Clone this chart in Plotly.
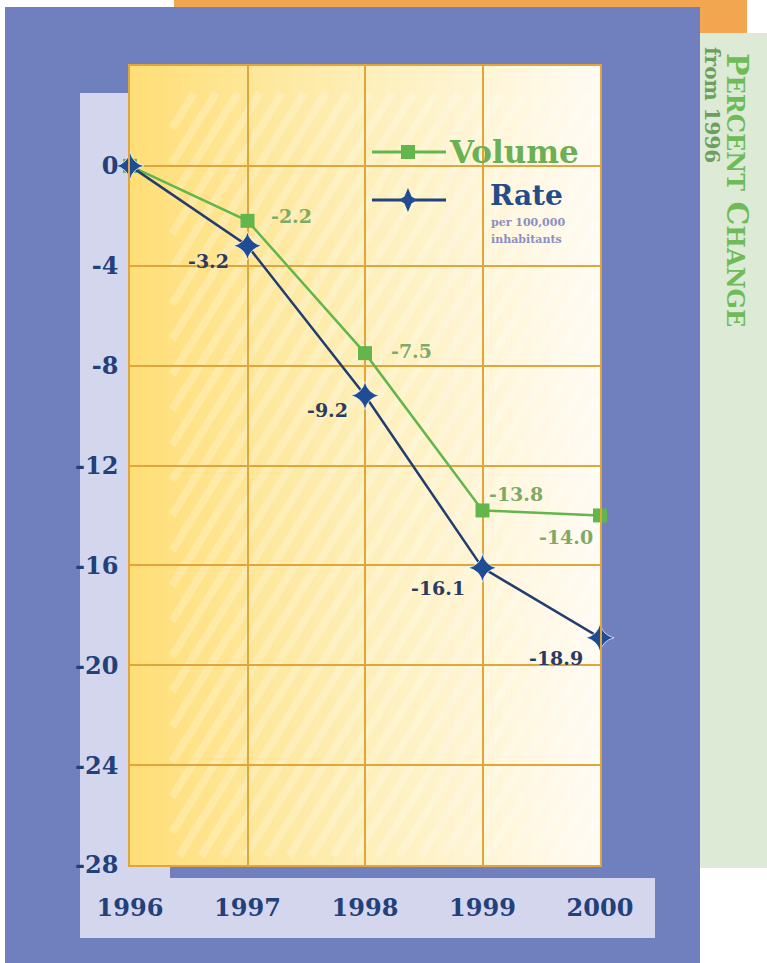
import plotly.graph_objects as go

# ---------------- data ----------------
years = [1996, 1997, 1998, 1999, 2000]
volume = [0, -2.2, -7.5, -13.8, -14.0]
rate = [0, -3.2, -9.2, -16.1, -18.9]
y_ticks = [0, -4, -8, -12, -16, -20, -24, -28]
y_ticktext = ["0", "-4", "-8", "-12", "-16", "-20", "-24", "-28"]
x_ticktext = ["1996", "1997", "1998", "1999", "2000"]

# label offsets (pixels) for the value labels, style only
vol_off = [None, (44, -5), (46, -2), (33, -16), (-34, 22)]
rate_off = [None, (-39, 15), (-38, 14), (-45, 20), (-44, 20)]

OFF = 0
W, H = 767, 963
FONT = "DejaVu Serif"

def px(x):
    return (x - OFF) / W

def py(y):
    return 1 - (y - OFF) / H

def rect(x0, y0, x1, y1, color, layer="below"):
    return dict(type="rect", xref="paper", yref="paper",
                x0=px(x0), x1=px(x1), y0=py(y1), y1=py(y0),
                fillcolor=color, line=dict(width=0), layer=layer)

# plot area in window pixels
PL, PR, PT, PB = 130, 600, 66, 865

shapes = []
shapes.append(rect(174, 0, 747, 33, "#F2A650"))        # orange bar
shapes.append(rect(700, 33, 767, 868, "#DDEBD6"))      # green panel
shapes.append(rect(5, 7, 700, 963, "#7080BE"))         # blue block
shapes.append(rect(80, 93, 170, 938, "#D4D6EE"))       # lavender column
shapes.append(rect(80, 878, 655, 938, "#D4D6EE"))      # lavender band

# gradient plot background
stops = [(130, (255, 222, 118)), (366, (254, 239, 185)), (600, (255, 251, 243))]
def col_at(x):
    for (xa, ca), (xb, cb) in zip(stops[:-1], stops[1:]):
        if xa <= x <= xb:
            t = (x - xa) / (xb - xa)
            return tuple(round(ca[i] + (cb[i] - ca[i]) * t) for i in range(3))
    return stops[-1][1]

step = 6
x = PL
while x < PR:
    x2 = min(x + step, PR)
    c = col_at((x + x2) / 2)
    shapes.append(rect(x, PT, x2 + 0.6, PB, "rgb(%d,%d,%d)" % c))
    x = x2

# hatch stripes within inset rectangle
HX0, HY0, HX1, HY1 = 172, 93, 598, 856
k = 1.6
def clip(xa, ya, xb, yb):
    dx, dy = xb - xa, yb - ya
    t0, t1 = 0.0, 1.0
    for p, q in ((-dx, xa - HX0), (dx, HX1 - xa), (-dy, ya - HY0), (dy, HY1 - ya)):
        if p == 0:
            if q < 0:
                return None
        else:
            r = q / p
            if p < 0:
                t0 = max(t0, r)
            else:
                t1 = min(t1, r)
    if t0 >= t1:
        return None
    return (xa + t0 * dx, ya + t0 * dy, xa + t1 * dx, ya + t1 * dy)

span = (HY1 - HY0) / k
xs = HX0 - span
while xs < HX1 + 10:
    seg = clip(xs, HY1, xs + span + 50, HY1 - k * (span + 50))
    if seg:
        shapes.append(dict(type="line", xref="paper", yref="paper",
                           x0=px(seg[0]), y0=py(seg[1]), x1=px(seg[2]), y1=py(seg[3]),
                           line=dict(color="rgba(255,255,255,0.22)", width=8), layer="below"))
    xs += 22

# legend keys
VOL_C = "#62B64C"
RATE_C = "#1F4C92"
shapes.append(dict(type="line", xref="paper", yref="paper", x0=px(372), x1=px(446),
                   y0=py(152), y1=py(152), line=dict(color=VOL_C, width=3), layer="above"))
shapes.append(rect(401, 145, 415, 159, VOL_C, layer="above"))
shapes.append(dict(type="line", xref="paper", yref="paper", x0=px(372), x1=px(446),
                   y0=py(200), y1=py(200), line=dict(color="#22427A", width=3), layer="above"))
cx, cy, r1, r2 = 408, 200, 12, 3.5
pts = [(cx, cy - r1), (cx + r2, cy - r2), (cx + r1 * 0.75, cy), (cx + r2, cy + r2),
       (cx, cy + r1), (cx - r2, cy + r2), (cx - r1 * 0.75, cy), (cx - r2, cy - r2)]
path = "M " + " L ".join("%.4f,%.4f" % (px(a), py(b)) for a, b in pts) + " Z"
shapes.append(dict(type="path", xref="paper", yref="paper", path=path,
                   fillcolor=RATE_C, line=dict(width=0), layer="above"))

fig = go.Figure()
fig.add_trace(go.Scatter(x=years, y=volume, mode="lines+markers",
                         line=dict(color=VOL_C, width=2.5),
                         marker=dict(symbol="square", size=14, color=VOL_C,
                                     line=dict(width=0)),
                         cliponaxis=False, showlegend=False, hoverinfo="x+y"))
fig.add_trace(go.Scatter(x=years, y=rate, mode="lines+markers",
                         line=dict(color="#233D70", width=2.5),
                         marker=dict(symbol="star-diamond", size=20, color=RATE_C,
                                     line=dict(width=1, color="rgba(255,255,255,0.7)")),
                         cliponaxis=False, showlegend=False, hoverinfo="x+y"))

annotations = []
for xv, yv, off in zip(years, volume, vol_off):
    if off is None:
        continue
    annotations.append(dict(x=xv, y=yv, xref="x", yref="y", text="%.1f" % yv,
                            showarrow=False, xshift=off[0], yshift=-off[1],
                            font=dict(family=FONT, size=19, color="#7FA967", weight="bold")))
for xv, yv, off in zip(years, rate, rate_off):
    if off is None:
        continue
    annotations.append(dict(x=xv, y=yv, xref="x", yref="y", text="%.1f" % yv,
                            showarrow=False, xshift=off[0], yshift=-off[1],
                            font=dict(family=FONT, size=19, color="#2C3A62", weight="bold")))

# legend texts
annotations.append(dict(x=px(447), y=py(152), xref="paper", yref="paper", text="Volume",
                        showarrow=False, xanchor="left", yanchor="middle",
                        font=dict(family=FONT, size=31, color="#6BB052", weight="bold")))
annotations.append(dict(x=px(488), y=py(195), xref="paper", yref="paper", text="Rate",
                        showarrow=False, xanchor="left", yanchor="middle",
                        font=dict(family=FONT, size=28, color="#234C8A", weight="bold")))
annotations.append(dict(x=px(489), y=py(222), xref="paper", yref="paper", text="per 100,000",
                        showarrow=False, xanchor="left", yanchor="middle",
                        font=dict(family=FONT, size=11, color="#8B8FC4", weight="bold")))
annotations.append(dict(x=px(489), y=py(239), xref="paper", yref="paper", text="inhabitants",
                        showarrow=False, xanchor="left", yanchor="middle",
                        font=dict(family=FONT, size=11, color="#8B8FC4", weight="bold")))

# side title
annotations.append(dict(x=px(737), y=py(190), xref="paper", yref="paper",
                        text="P<span style='font-size:24px'>ERCENT</span> C<span style='font-size:24px'>HANGE</span>",
                        showarrow=False, textangle=90, xanchor="center", yanchor="middle",
                        font=dict(family=FONT, size=30, color="#6EBB58", weight="bold")))
annotations.append(dict(x=px(712), y=py(105), xref="paper", yref="paper",
                        text="from 1996", showarrow=False, textangle=90,
                        xanchor="center", yanchor="middle",
                        font=dict(family=FONT, size=20, color="#6E9E5E", weight="bold")))

GRID = "#E1A53E"
fig.update_layout(
    template="none",
    width=W, height=H, autosize=False,
    margin=dict(l=0, r=0, t=0, b=0, pad=0),
    paper_bgcolor="white", plot_bgcolor="rgba(0,0,0,0)",
    shapes=shapes, annotations=annotations, showlegend=False,
    xaxis=dict(domain=[px(PL), px(PR)], range=[1996, 2000], automargin=False,
               tickvals=years, ticktext=x_ticktext, showgrid=True,
               gridcolor=GRID, gridwidth=1.5, zeroline=False,
               showline=True, mirror=True, linecolor=GRID, linewidth=1.5,
               ticks="", ticklabelstandoff=20,
               tickfont=dict(family=FONT, size=24, color="#22407A", weight="bold")),
    yaxis=dict(domain=[py(PB), py(PT)], range=[-28, 4], automargin=False,
               tickvals=y_ticks, ticktext=y_ticktext, showgrid=True,
               gridcolor=GRID, gridwidth=1.5, zeroline=False,
               showline=True, mirror=True, linecolor=GRID, linewidth=1.5,
               ticks="", ticklabelstandoff=5,
               tickfont=dict(family=FONT, size=24, color="#22407A", weight="bold")),
)

fig.write_html("out.html", config={"displayModeBar": False},
               post_script="document.body.style.margin='0';document.body.style.overflow='hidden';")
